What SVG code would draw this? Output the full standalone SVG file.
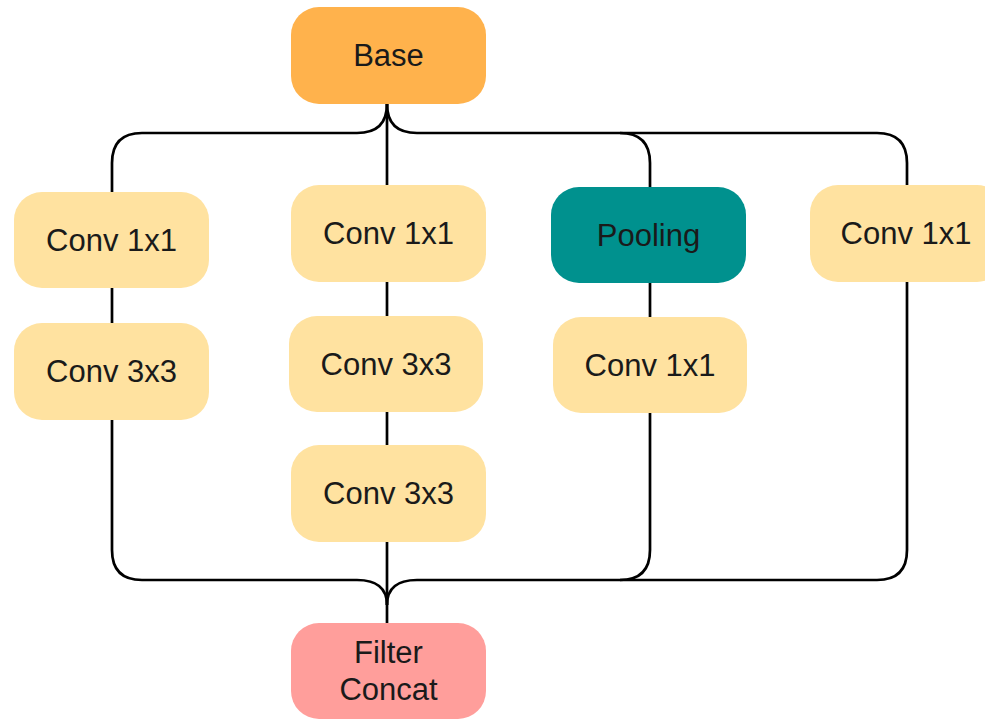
<svg xmlns="http://www.w3.org/2000/svg" width="985" height="721" viewBox="0 0 985 721">
<style>
.n{stroke:none}
.conv{fill:#FFE2A0}
.t{font-family:"Liberation Sans",Arial,sans-serif;font-size:31px;fill:#1a1a1a;text-anchor:middle}
.c{fill:none;stroke:#000;stroke-width:2.7;stroke-linejoin:round}
</style>
<rect width="985" height="721" fill="#fff"/>
<g id="connectors" class="c">
<path d="M387,104 L387,185"/>
<path d="M387,104 Q387,133 357,133 L142,133 Q112,133 112,163 L112,192"/>
<path d="M387,104 Q387,133 417,133 L620,133 Q650,133 650,163 L650,187"/>
<path d="M620,133 L877,133 Q907,133 907,163 L907,185"/>
<path d="M112,288 L112,323"/>
<path d="M387,282 L387,316"/>
<path d="M387,412 L387,445"/>
<path d="M650,283 L650,317"/>
<path d="M387,542 L387,623"/>
<path d="M112,420 L112,550 Q112,580 142,580 L357,580 Q387,580 387,605"/>
<path d="M907,282 L907,550 Q907,580 877,580 L417,580 Q387,580 387,605"/>
<path d="M650,413 L650,550 Q650,580 620,580"/>
</g>
<g id="base"><rect x="291" y="7" width="195" height="97" rx="28" fill="#FFB24C"/><text class="t" x="388.5" y="66">Base</text></g>
<g id="b1c1"><rect class="conv" x="14" y="192" width="195" height="96" rx="28"/><text class="t" x="111.5" y="251">Conv 1x1</text></g>
<g id="b1c3"><rect class="conv" x="14" y="323" width="195" height="97" rx="28"/><text class="t" x="111.5" y="382">Conv 3x3</text></g>
<g id="b2c1"><rect class="conv" x="291" y="185" width="195" height="97" rx="28"/><text class="t" x="388.5" y="244">Conv 1x1</text></g>
<g id="b2c3a"><rect class="conv" x="289" y="316" width="194" height="96" rx="28"/><text class="t" x="386" y="375">Conv 3x3</text></g>
<g id="b2c3b"><rect class="conv" x="291" y="445" width="195" height="97" rx="28"/><text class="t" x="388.5" y="504">Conv 3x3</text></g>
<g id="pool"><rect x="551" y="187" width="195" height="96" rx="28" fill="#00918E"/><text class="t" x="648.5" y="246">Pooling</text></g>
<g id="b3c1"><rect class="conv" x="553" y="317" width="194" height="96" rx="28"/><text class="t" x="650" y="376">Conv 1x1</text></g>
<g id="b4c1"><rect class="conv" x="810" y="185" width="195" height="97" rx="28"/><text class="t" x="906" y="244">Conv 1x1</text></g>
<g id="concat"><rect x="291" y="623" width="195" height="96" rx="28" fill="#FF9E9B"/><text class="t" x="388.5" y="663">Filter</text><text class="t" x="388.5" y="700">Concat</text></g>
</svg>
